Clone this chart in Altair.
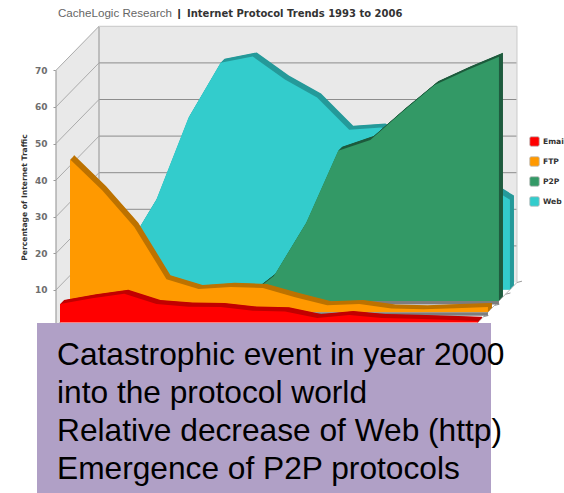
import altair as alt
import pandas as pd

# Percentage of internet traffic per protocol, 1993-2006
years = list(range(1993, 2007))
email = [5.0, 6.6, 7.8, 5.0, 4.3, 4.2, 3.2, 3.0, 1.2, 2.0, 1.2, 1.0, 0.7, 0.4]
ftp = [41.8, 33.3, 23.3, 9.0, 6.3, 6.9, 6.6, 4.1, 1.9, 2.2, 1.0, 0.8, 1.1, 1.4]
p2p = [0, 0, 0, 0, 0, 0, 6.8, 21.3, 41.0, 44.0, 51.7, 59.0, 63.0, 66.7]
web = [3.0, 10.0, 24.6, 47.0, 62.0, 63.7, 57.4, 52.5, 43.7, 44.3, 40.0, 36.0, 30.0, 24.6]
ticks = [10, 20, 30, 40, 50, 60, 70]

names = ["Email", "FTP", "P2P", "Web"]
front_colors = ["#ff0000", "#ff9900", "#339966", "#33cccc"]
top_colors = ["#c20000", "#bd7300", "#1f5c3e", "#269a9a"]

title_regular = "CacheLogic Research"
title_bold = "Internet Protocol Trends 1993 to 2006"
notes = [
    "Catastrophic event in year 2000",
    "into the protocol world",
    "Relative decrease of Web (http)",
    "Emergence of P2P protocols",
]

# Oblique projection: depth in pixels is turned into data units along each scale
W, H = 564, 493
PX_YEAR, PX_VALUE = 32.15, 3.66
X_ORIGIN, Y_ORIGIN = 56, 326.5
WALL_DEPTH = 43
RISE = 44 / 43
BAND = 4
depths = {"Email": 4, "FTP": 14, "P2P": 25, "Web": 36}

x_scale = alt.Scale(domain=[1993 - X_ORIGIN / PX_YEAR, 1993 + (W - X_ORIGIN) / PX_YEAR], nice=False, zero=False)
y_scale = alt.Scale(domain=[-(H - Y_ORIGIN) / PX_VALUE, Y_ORIGIN / PX_VALUE], nice=False, zero=False)
color_scale = alt.Scale(domain=names, range=front_colors)

value_axis = alt.Axis(
    values=ticks, offset=-X_ORIGIN, domain=False, grid=False, tickColor="#9a9a9a",
    tickSize=3, labelColor="#6e6e6e", labelFont="DejaVu Sans", labelFontWeight="bold",
    labelFontSize=9, labelPadding=6, title="Percentage of Internet Traffic",
    titleFont="DejaVu Sans", titleFontSize=7.6, titleFontWeight="bold", titleColor="#333333",
    titleX=-X_ORIGIN + 28, titleY=197, titleAngle=270,
)


def dx(depth):
    return depth / PX_YEAR


def dy(depth):
    return depth * RISE / PX_VALUE


X = alt.X("x:Q", scale=x_scale, axis=None)
Y = alt.Y("y:Q", scale=y_scale, axis=value_axis)


def series_frame(name, values, shift=0.0):
    depth = depths[name] + shift
    return pd.DataFrame({
        "series": name,
        "x": [yr + dx(depth) for yr in years],
        "y": [v + dy(depth) for v in values],
        "y2": dy(depth),
    })


layers = []

# Walls
left_wall = pd.DataFrame({
    "x": [1993, 1993 + dx(WALL_DEPTH)],
    "y": [70, 70 + dy(WALL_DEPTH)],
    "y2": [0, dy(WALL_DEPTH)],
})
layers.append(alt.Chart(left_wall).mark_area(color="#e9e9e9").encode(x=X, y=Y, y2="y2:Q"))
back_wall = pd.DataFrame({
    "x": [1993 + dx(WALL_DEPTH), 2006 + dx(WALL_DEPTH)],
    "y": [70 + dy(WALL_DEPTH)] * 2,
    "y2": [dy(WALL_DEPTH)] * 2,
})
layers.append(alt.Chart(back_wall).mark_area(color="#e9e9e9").encode(x=X, y=Y, y2="y2:Q"))

# Gridlines on the back wall and their slanted continuation on the side wall
grid = pd.DataFrame({"v": ticks + [0]})
grid["xa"] = 1993 + dx(WALL_DEPTH)
grid["xb"] = 2006 + dx(WALL_DEPTH)
grid["yb"] = grid["v"] + dy(WALL_DEPTH)
grid["x0"] = 1993
layers.append(
    alt.Chart(grid[(grid.v > 0) & (grid.v < 70)]).mark_rule(color="#8c8c8c", strokeWidth=1).encode(
        x=alt.X("xa:Q", scale=x_scale, axis=None), x2="xb:Q", y=alt.Y("yb:Q", scale=y_scale, axis=value_axis)
    )
)
layers.append(
    alt.Chart(grid).mark_rule(color="#ababab", strokeWidth=1).encode(
        x=alt.X("x0:Q", scale=x_scale, axis=None), x2="xa:Q",
        y=alt.Y("v:Q", scale=y_scale, axis=value_axis), y2="yb:Q",
    )
)
# Wall outlines
outline = pd.DataFrame({
    "x": [1993, 1993 + dx(WALL_DEPTH), 2006 + dx(WALL_DEPTH), 1993 + dx(WALL_DEPTH)],
    "x2": [1993, 1993 + dx(WALL_DEPTH), 2006 + dx(WALL_DEPTH), 2006 + dx(WALL_DEPTH)],
    "y": [0, dy(WALL_DEPTH), dy(WALL_DEPTH), 70 + dy(WALL_DEPTH)],
    "y2": [70, 70 + dy(WALL_DEPTH), 70 + dy(WALL_DEPTH), 70 + dy(WALL_DEPTH)],
    "c": ["#a0a0a0", "#a0a0a0", "#cfcfcf", "#cfcfcf"],
})
layers.append(
    alt.Chart(outline).mark_rule(strokeWidth=1.2).encode(
        x=X, x2="x2:Q", y=Y, y2="y2:Q", color=alt.Color("c:N", scale=None)
    )
)

# Floor edge with a short tick in front of each series lane
floor = pd.DataFrame({"d": [0, 9.5, 20.5, 31.5, WALL_DEPTH]})
floor["x"] = 2006 + floor["d"].map(dx)
floor["x2"] = floor["x"] + 5 / PX_YEAR
floor["y"] = floor["d"].map(dy)
floor["y2"] = floor["y"] + 1.3 / PX_VALUE
layers.append(
    alt.Chart(floor).mark_rule(color="#9a9a9a", strokeWidth=1).encode(x=X, x2="x2:Q", y=Y, y2="y2:Q")
)
floor_edge = pd.DataFrame({
    "x": [2006], "x2": [2006 + dx(WALL_DEPTH)], "y": [0], "y2": [dy(WALL_DEPTH)]
})
layers.append(
    alt.Chart(floor_edge).mark_rule(color="#b5b5b5", strokeWidth=1).encode(x=X, x2="x2:Q", y=Y, y2="y2:Q")
)

# Ribbons, back to front: swept copies form the top and end faces
for name, values, top in zip(
    ["Web", "P2P", "FTP", "Email"],
    [web, p2p, ftp, email],
    [top_colors[3], top_colors[2], top_colors[1], top_colors[0]],
):
    swept = pd.concat(
        [series_frame(name, values, s / 2).assign(copy=s) for s in range(BAND * 2, 0, -1)],
        ignore_index=True,
    )
    layers.append(
        alt.Chart(swept).mark_area(color=top, interpolate="linear").encode(
            x=X, y=Y, y2="y2:Q", detail="copy:N"
        )
    )
    layers.append(
        alt.Chart(series_frame(name, values)).mark_area(interpolate="linear").encode(
            x=X,
            y=Y,
            y2="y2:Q",
            color=alt.Color(
                "series:N",
                scale=color_scale,
                legend=alt.Legend(
                    title=None, orient="none", legendX=529, legendY=136, symbolType=(
                        "M-0.7,-1H0.7Q1,-1,1,-0.7V0.7Q1,1,0.7,1H-0.7Q-1,1,-1,0.7V-0.7Q-1,-1,-0.7,-1Z"
                    ),
                    symbolSize=90, symbolStrokeColor="#bbbbbb", symbolStrokeWidth=0.8,
                    labelFont="DejaVu Sans", labelFontWeight="bold", labelFontSize=7.6,
                    labelColor="#333333", rowPadding=9, labelOffset=3, clipHeight=11,
                ),
            ),
        )
    )
    if name in ("P2P", "FTP"):
        # Grey footprint on the floor just ahead of the ribbon
        foot = series_frame(name, [0] * len(years))
        foot["y"] = foot["y2"] - 3.5 / PX_VALUE
        foot = foot[foot["x"] >= 2000]
        layers.append(
            alt.Chart(foot).mark_area(color="#7d7d7d").encode(x=X, y=Y, y2="y2:Q")
        )

# Annotation panel
panel = pd.DataFrame({"a": [1]})
layers.append(
    alt.Chart(panel).mark_rect(color="#b0a0c6").encode(
        x=alt.value(37), x2=alt.value(491), y=alt.value(323), y2=alt.value(H)
    )
)
for line, base in zip(notes, [365, 403, 441, 479]):
    layers.append(
        alt.Chart(pd.DataFrame({"t": [line]})).mark_text(
            font="Liberation Sans", fontSize=31.7, color="#000000", align="left", baseline="alphabetic"
        ).encode(x=alt.value(57), y=alt.value(base), text="t:N")
    )

# Heading: plain source name, divider, bold title
for text, xpos, font, weight, size, col in [
    (title_regular, 58, "Liberation Sans", "normal", 11.6, "#666666"),
    ("|", 177.5, "Liberation Sans", "bold", 11.6, "#222222"),
    (title_bold, 187, "DejaVu Sans", "bold", 10, "#333333"),
]:
    layers.append(
        alt.Chart(pd.DataFrame({"t": [text]})).mark_text(
            font=font, fontWeight=weight, fontSize=size, color=col, align="left", baseline="alphabetic"
        ).encode(x=alt.value(xpos), y=alt.value(16.5), text="t:N")
    )

chart = (
    alt.layer(*layers)
    .properties(width=W, height=H, padding=0, autosize="none", background="#ffffff")
    .configure_view(stroke=None)
)

chart.save("out.html", embed_options={"renderer": "svg", "actions": False})
